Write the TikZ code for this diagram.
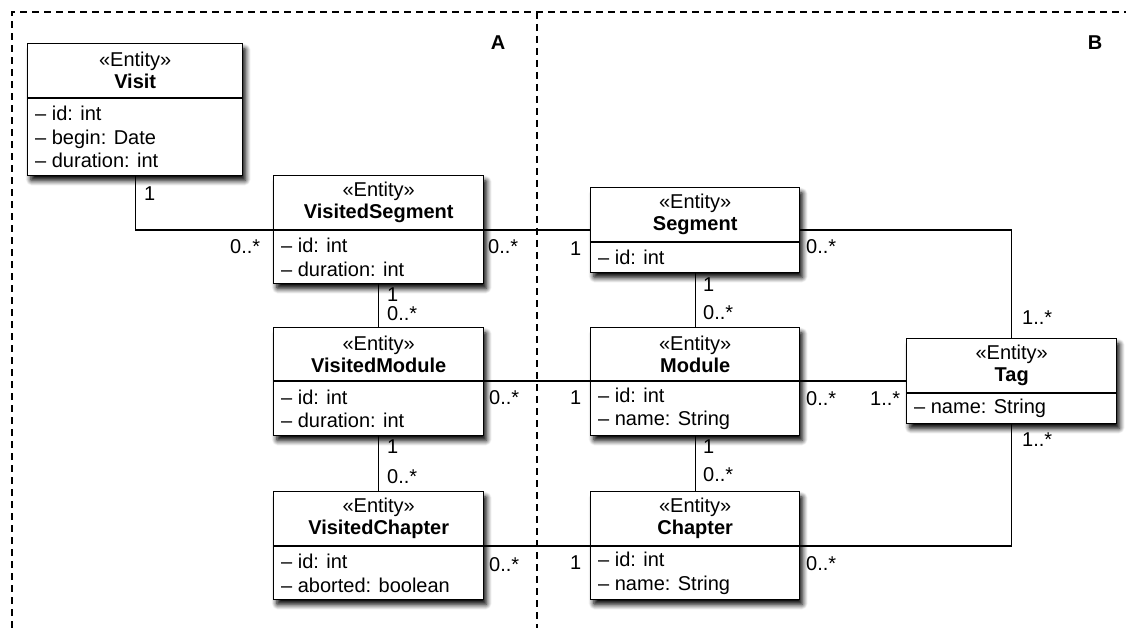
\documentclass[tikz,border=0pt]{standalone}
\usepackage{fontspec}
\setmainfont{Liberation Sans}
\usetikzlibrary{shadows.blur,calc}

\tikzset{
  classbox/.style={draw, line width=1.4pt, fill=white, inner sep=0pt,
    blur shadow={shadow xshift=3pt, shadow yshift=-5pt,
                 shadow blur radius=5pt, shadow blur extra rounding=1pt,
                 shadow opacity=100, shadow blur steps=8}},
  classrule/.style={line width=1.4pt},
  headtext/.style={align=center, inner sep=0pt, font=\fontsize{20}{22}\selectfont},
  attrtext/.style={align=left, inner sep=0pt, anchor=west,
    font=\fontsize{20}{23.5}\selectfont},
  assoc/.style={line width=1.2pt},
  mult/.style={inner sep=0pt, anchor=west, font=\fontsize{20}{23}\selectfont},
  framedash/.style={line width=1.1pt, dash pattern=on 7pt off 5pt},
  region/.style={inner sep=0pt, font=\fontsize{20}{24}\bfseries\selectfont}
}

% #1 node name, #2 left, #3 right, #4 top, #5 compartment rule, #6 bottom,
% #7 class name, #8 attribute lines
\newcommand\umlclass[8]{%
  \node[classbox, anchor=north west, minimum width={#3-#2},
        minimum height={#6-#4}] (#1) at (#2,#4) {};
  \coordinate (#1-sep) at (#2,#5);
  \draw[classrule] (#1.west |- #1-sep) -- (#1.east |- #1-sep);
  \node[headtext] (#1-head) at ($(#1.north)!0.5!(#1.north |- #1-sep)$)
    {«Entity»\\\bfseries #7};
  \node[attrtext] (#1-attr) at ($(#1.west |- #1-sep)!0.5!(#1.south west) + (8,0)$)
    {#8};
}

\begin{document}
\begin{tikzpicture}[x=1pt, y=-1pt]
  \useasboundingbox (0,0) rectangle (1126,628);

  % package frame and the divider between the two packages
  \draw[framedash] (12,640) -- (12,12) -- (1140,12);
  \draw[framedash] (537,12) -- (537,640);
  \node[region] (regA) at (498,43) {A};
  \node[region] (regB) at (1095,43) {B};

  % classes
  \umlclass{visit}{27}{242}{43}{98}{175}{Visit}
    {– id: int\\– begin: Date\\– duration: int}
  \umlclass{vseg}{273}{483}{175}{230}{283}{VisitedSegment}
    {– id: int\\– duration: int}
  \umlclass{vmod}{273}{483}{327}{381}{435}{VisitedModule}
    {– id: int\\– duration: int}
  \umlclass{vchap}{273}{483}{491}{546}{599}{VisitedChapter}
    {– id: int\\– aborted: boolean}
  \umlclass{seg}{590}{799}{187}{242}{272}{Segment}
    {– id: int}
  \umlclass{mod}{590}{799}{327}{381}{435}{Module}
    {– id: int\\– name: String}
  \umlclass{chap}{590}{799}{491}{546}{599}{Chapter}
    {– id: int\\– name: String}
  \umlclass{tag}{906}{1116}{338}{393}{423}{Tag}
    {– name: String}

  % associations
  \draw[assoc] (visit.south) |- (vseg.west |- vseg-sep);
  \draw[assoc] (vseg.east |- vseg-sep) -- (seg.west |- vseg-sep);
  \draw[assoc] (seg.east |- vseg-sep) -| (tag.north);
  \draw[assoc] (vseg.south) -- (vmod.north);
  \draw[assoc] (seg.south) -- (mod.north);
  \draw[assoc] (vmod.east |- vmod-sep) -- (mod.west |- vmod-sep);
  \draw[assoc] (mod.east |- mod-sep) -- (tag.west |- mod-sep);
  \draw[assoc] (vmod.south) -- (vchap.north);
  \draw[assoc] (mod.south) -- (chap.north);
  \draw[assoc] (vchap.east |- vchap-sep) -- (chap.west |- vchap-sep);
  \draw[assoc] (tag.south) |- (chap.east |- chap-sep);

  % multiplicities
  \node[mult] (m1)  at (144,194) {1};
  \node[mult] (m2)  at (230,247) {0..*};
  \node[mult] (m3)  at (488,247) {0..*};
  \node[mult] (m4)  at (570,249) {1};
  \node[mult] (m5)  at (806,247) {0..*};
  \node[mult] (m6)  at (1022,318) {1..*};
  \node[mult] (m7)  at (387,295) {1};
  \node[mult] (m8)  at (387,314) {0..*};
  \node[mult] (m9)  at (703,285) {1};
  \node[mult] (m10) at (703,313) {0..*};
  \node[mult] (m11) at (489,398) {0..*};
  \node[mult] (m12) at (570,398) {1};
  \node[mult] (m13) at (806,399) {0..*};
  \node[mult] (m14) at (870,399) {1..*};
  \node[mult] (m15) at (1022,440) {1..*};
  \node[mult] (m16) at (387,447) {1};
  \node[mult] (m17) at (387,477) {0..*};
  \node[mult] (m18) at (703,447) {1};
  \node[mult] (m19) at (703,475) {0..*};
  \node[mult] (m20) at (489,565) {0..*};
  \node[mult] (m21) at (570,563) {1};
  \node[mult] (m22) at (806,564) {0..*};
\end{tikzpicture}
\end{document}
